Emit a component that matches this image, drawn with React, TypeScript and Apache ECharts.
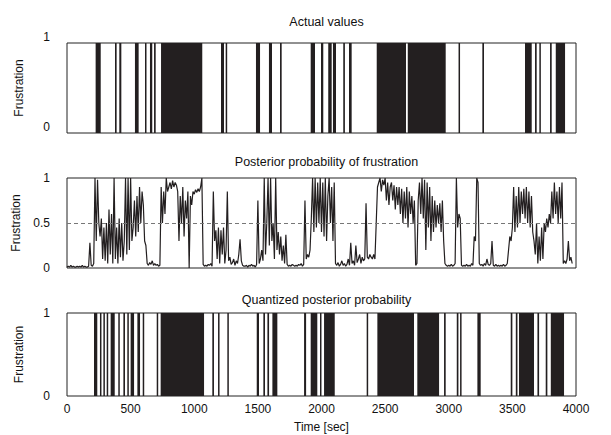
import React, { useEffect, useRef } from "react";
import * as echarts from "echarts";

// Actual values: intervals [start, end] (sec) where frustration = 1
const actualIntervals: [number, number][] = [
  [225, 265], [377, 390], [411, 427], [534, 563], [613, 623], [652, 670], [684, 697],
  [739, 1063], [1210, 1234], [1247, 1252], [1485, 1517], [1587, 1611], [1674, 1687],
  [1915, 1949], [1996, 2014], [2053, 2080], [2090, 2114], [2171, 2184], [2216, 2237],
  [2434, 2664], [2678, 2976], [3077, 3085], [3264, 3277], [3599, 3652], [3678, 3691],
  [3712, 3723], [3796, 3809], [3841, 3914],
];

// Quantized posterior: intervals where posterior > 0.5
const quantIntervals: [number, number][] = [
  [212, 238], [259, 270], [286, 291], [312, 322], [343, 375], [403, 406], [443, 456],
  [474, 485], [500, 527], [553, 574], [595, 605], [705, 715], [736, 1077], [1142, 1155],
  [1187, 1195], [1260, 1270], [1491, 1509], [1543, 1556], [1575, 1588], [1614, 1653],
  [1863, 1879], [1915, 1967], [1988, 1999], [2020, 2104], [2355, 2366], [2439, 2727],
  [2753, 2924], [2963, 2976], [3063, 3076], [3089, 3100], [3225, 3251], [3487, 3500],
  [3527, 3540], [3552, 3670], [3697, 3710], [3762, 3775], [3802, 3906],
];

// Posterior probability, sampled every POST_STEP seconds from t = 0
const POST_STEP = 10;
const posterior: number[] = [
  0.01, 0.02, 0.01, 0.03, 0.01, 0.02, 0.01, 0.01, 0.02, 0.01, 0.02, 0.01, 0.03, 0.01, 0.02, 0.01, 0.01, 0.02, 0.28, 0.03,
  0.02, 0.05, 1.0, 0.3, 0.98, 0.5, 0.35, 0.55, 0.1, 0.45, 0.08, 0.5, 0.05, 0.65, 0.15, 0.6, 0.05, 1.0, 0.1, 0.45,
  0.05, 0.55, 0.12, 0.5, 0.08, 0.3, 1.0, 0.15, 1.0, 0.2, 1.0, 0.3, 0.45, 0.75, 0.35, 0.8, 0.4, 0.9, 0.5, 0.85,
  0.7, 0.3, 0.25, 0.05, 0.03, 0.06, 0.04, 0.08, 0.03, 0.05, 0.03, 0.04, 0.02, 0.03, 0.9, 0.5, 0.85, 0.6, 1.0, 0.85,
  0.9, 0.95, 0.88, 0.97, 0.9, 0.95, 0.92, 0.85, 0.3, 0.8, 0.5, 0.9, 0.35, 0.75, 0.55, 0.85, 0.0, 0.8, 0.7, 0.85,
  0.82, 0.87, 0.84, 0.88, 0.85, 0.9, 1.0, 0.04, 0.02, 0.03, 0.02, 0.04, 0.03, 0.05, 0.02, 0.85, 0.3, 0.42, 0.1, 0.45,
  0.05, 0.42, 0.15, 0.45, 0.05, 0.2, 0.85, 0.08, 0.12, 0.04, 0.06, 0.1, 0.03, 0.08, 0.05, 0.15, 0.32, 0.08, 0.03, 0.02,
  0.02, 0.03, 0.01, 0.03, 0.02, 0.04, 0.02, 0.03, 0.01, 0.04, 0.75, 0.05, 0.1, 0.2, 0.08, 1.0, 0.15, 0.5, 1.0, 0.25,
  1.0, 0.3, 0.5, 0.1, 1.0, 0.2, 0.4, 0.15, 0.35, 0.08, 0.25, 0.05, 0.37, 0.04, 0.02, 0.03, 0.02, 0.04, 0.03, 0.02,
  0.03, 0.02, 0.04, 0.03, 0.05, 0.02, 0.04, 0.75, 0.1, 0.15, 0.12, 0.2, 0.55, 1.0, 0.4, 1.0, 0.45, 0.95, 0.5, 1.0,
  0.4, 0.95, 0.35, 1.0, 0.3, 0.8, 1.0, 0.5, 0.9, 0.3, 0.95, 0.05, 0.03, 0.06, 0.02, 0.04, 0.08, 0.03, 0.05, 0.02,
  0.04, 0.1, 0.03, 0.28, 0.05, 0.08, 0.03, 0.25, 0.06, 0.1, 0.15, 0.05, 0.12, 0.08, 0.1, 0.72, 0.12, 0.1, 0.15, 0.12,
  0.1, 0.15, 0.1, 0.5, 0.9, 0.95, 1.0, 0.85, 0.98, 0.92, 1.0, 0.75, 0.95, 0.7, 0.9, 0.95, 0.75, 0.92, 0.65, 0.9,
  0.7, 0.9, 0.6, 0.88, 0.5, 0.85, 0.55, 0.9, 0.45, 0.85, 0.6, 0.8, 0.5, 0.75, 0.03, 0.05, 0.75, 0.95, 0.6, 1.0,
  0.55, 0.98, 0.2, 0.95, 0.45, 0.9, 0.3, 0.8, 0.4, 0.75, 0.45, 0.7, 0.5, 0.72, 0.4, 0.75, 0.3, 0.05, 0.03, 0.02,
  0.03, 0.02, 0.04, 0.02, 0.03, 0.05, 1.0, 0.45, 0.6, 0.55, 0.03, 0.02, 0.03, 0.02, 0.04, 0.02, 0.03, 0.02, 0.05, 0.03,
  0.35, 0.3, 1.0, 0.95, 0.05, 0.03, 0.04, 0.02, 0.05, 0.03, 0.1, 0.04, 0.03, 0.05, 0.3, 0.03, 0.02, 0.04, 0.02, 0.03,
  0.02, 0.03, 0.02, 0.04, 0.02, 0.03, 0.05, 0.2, 0.35, 0.3, 0.45, 0.9, 0.4, 0.8, 0.45, 0.9, 0.5, 0.85, 0.6, 0.88,
  0.55, 0.9, 0.5, 0.85, 0.45, 0.8, 0.4, 0.3, 0.15, 0.5, 0.05, 0.35, 0.08, 0.45, 0.1, 0.5, 0.4, 0.55, 0.45, 0.6,
  0.5, 0.85, 0.55, 0.95, 0.6, 0.85, 0.5, 0.9, 0.55, 0.95, 0.05, 0.08, 0.05, 0.1, 0.3, 0.08, 0.12, 0.05,
];

const xTicks = [0, 500, 1000, 1500, 2000, 2500, 3000, 3500, 4000];
const titles = ["Actual values", "Posterior probability of frustration", "Quantized posterior probability"];

const FONT = "Liberation Sans, Arial, sans-serif";
const INK = "#231f20";

export default function App() {
  const ref = useRef<HTMLDivElement>(null);
  useEffect(() => {
    if (!ref.current) return;
    const chart = echarts.init(ref.current, null, { renderer: "svg" });

    const grids = [
      { left: 67, width: 509, top: 43, height: 90 },
      { left: 67, width: 509, top: 178, height: 90 },
      { left: 67, width: 509, top: 313, height: 83 },
    ].map((g) => ({ ...g, show: true, borderColor: "#222", borderWidth: 1, backgroundColor: "#fff" }));

    const xAxes = [0, 1, 2].map((i) => ({
      type: "value",
      gridIndex: i,
      min: 0,
      max: 4000,
      interval: 500,
      axisLine: { show: false },
      axisTick: { show: false },
      splitLine: { show: false },
      axisLabel: {
        show: i === 2,
        fontFamily: FONT,
        fontSize: 12,
        color: "#111",
        margin: 7,
        customValues: xTicks,
        formatter: (v: number) => String(v),
      },
      name: i === 2 ? "Time [sec]" : "",
      nameLocation: "middle",
      nameGap: 25,
      nameTextStyle: { fontFamily: FONT, fontSize: 12, color: "#111" },
    }));

    const yAxes = [0, 1, 2].map((i) => ({
      type: "value",
      gridIndex: i,
      min: 0,
      max: 1,
      interval: i === 1 ? 0.5 : 1,
      axisLine: { show: false },
      axisTick: { show: false },
      splitLine: { show: false },
      axisLabel: {
        fontFamily: FONT,
        fontSize: 12,
        color: "#111",
        margin: 17,
        verticalAlign: i === 0 ? "bottom" : "middle",
      },
      name: "Frustration",
      nameLocation: "middle",
      nameRotate: 90,
      nameGap: 42,
      nameTextStyle: { fontFamily: FONT, fontSize: 12, color: "#111" },
    }));

    const barRender = (params: any, api: any) => {
      const s = api.coord([api.value(0), 1]);
      const e = api.coord([api.value(1), 0]);
      const w = Math.max(e[0] - s[0], 1.5);
      return {
        type: "rect",
        shape: { x: s[0], y: s[1], width: w, height: e[1] - s[1] },
        style: { fill: INK },
      };
    };

    const postData = posterior.map((v, i) => [i * POST_STEP, v]);

    chart.setOption({
      animation: false,
      title: titles.map((t, i) => ({
        text: t,
        left: 321.5,
        textAlign: "center",
        top: [10, 150, 288][i],
        textStyle: { fontFamily: FONT, fontSize: 12.5, fontWeight: "normal", color: "#111" },
      })),
      grid: grids,
      xAxis: xAxes,
      yAxis: yAxes,
      series: [
        {
          type: "custom",
          xAxisIndex: 0,
          yAxisIndex: 0,
          renderItem: barRender,
          encode: { x: [0, 1] },
          data: actualIntervals,
          clip: true,
        },
        {
          type: "line",
          xAxisIndex: 1,
          yAxisIndex: 1,
          data: postData,
          showSymbol: false,
          symbol: "none",
          lineStyle: { color: INK, width: 1.2 },
          markLine: {
            silent: true,
            symbol: "none",
            label: { show: false },
            lineStyle: { color: "#777", type: [4, 3], width: 1 },
            data: [{ yAxis: 0.5 }],
          },
        },
        {
          type: "custom",
          xAxisIndex: 2,
          yAxisIndex: 2,
          renderItem: barRender,
          encode: { x: [0, 1] },
          data: quantIntervals,
          clip: true,
        },
      ],
    });
    return () => chart.dispose();
  }, []);
  return <div ref={ref} style={{ position: "absolute", left: 0, top: 0, width: 611, height: 435 }} />;
}
